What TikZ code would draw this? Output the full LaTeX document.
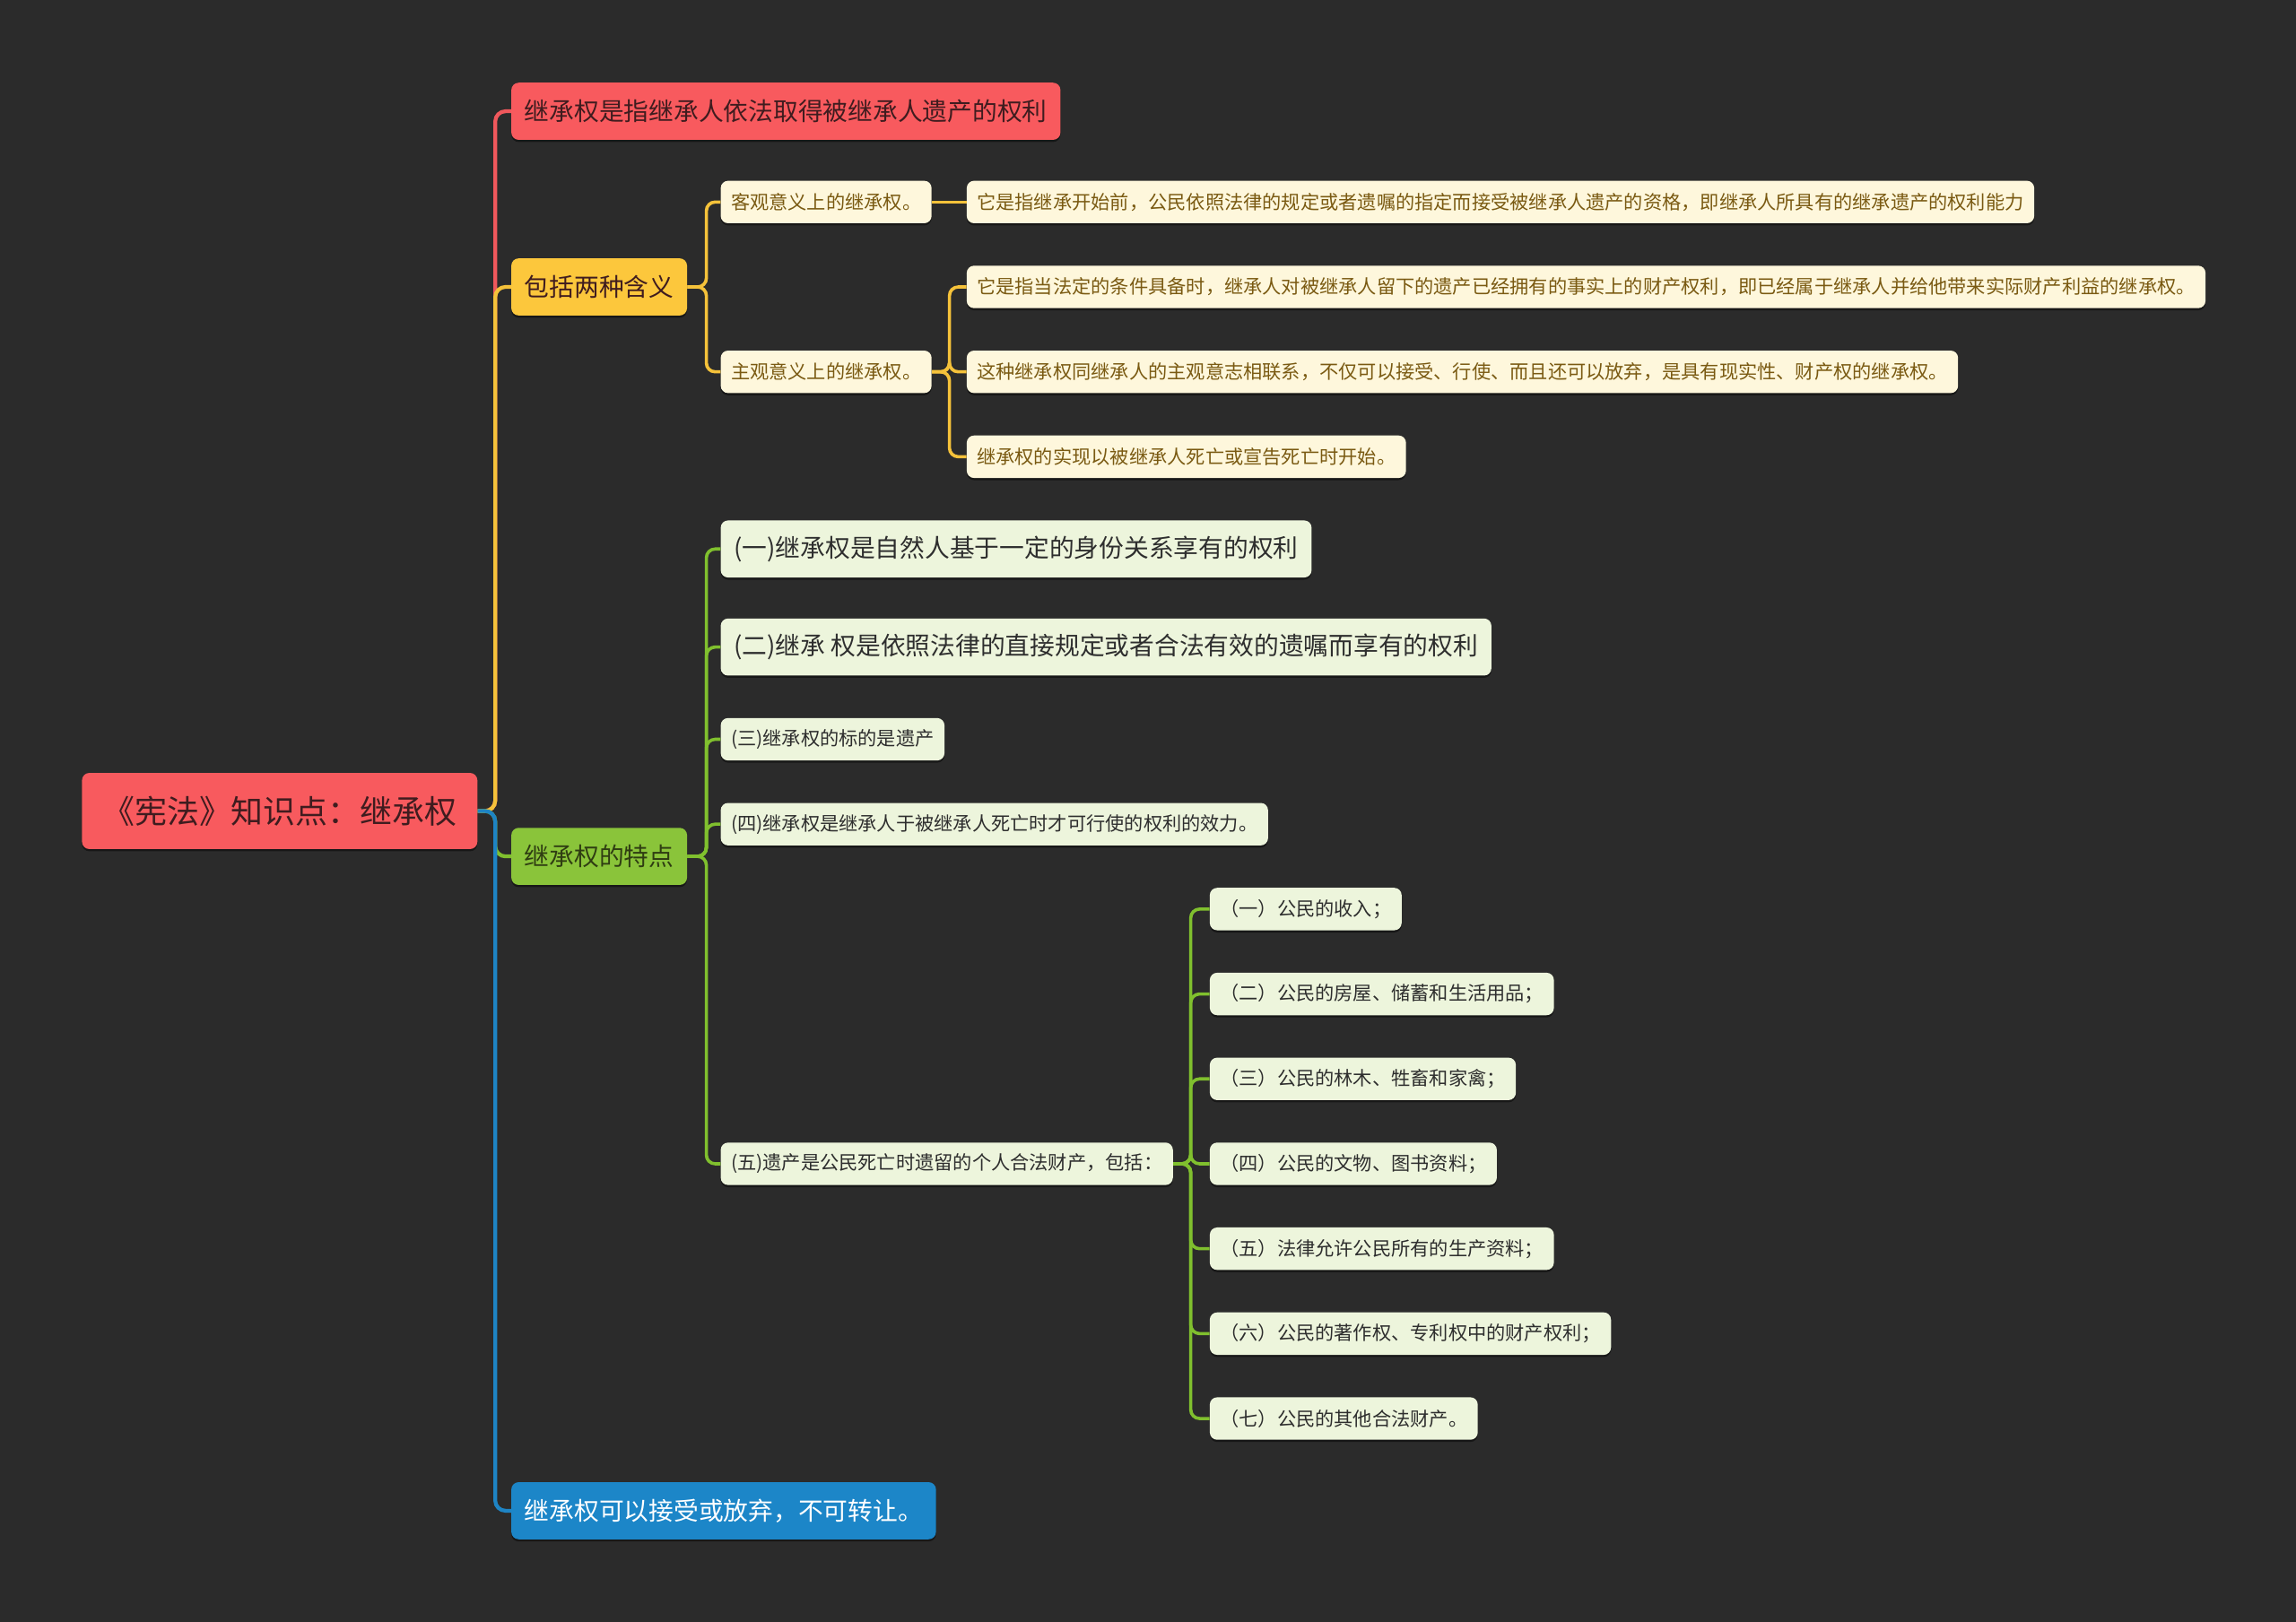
\documentclass[tikz,border=0pt]{standalone}
\usepackage{fontspec}
\setmainfont{Noto Sans CJK SC}
\usetikzlibrary{shadows}
\definecolor{bgGray}{HTML}{2B2B2B}
\definecolor{rootRed}{HTML}{F85A5E}
\definecolor{lineRed}{HTML}{F0585C}
\definecolor{topYellow}{HTML}{FCC73C}
\definecolor{lineYellow}{HTML}{F5C23A}
\definecolor{topGreen}{HTML}{8AC43A}
\definecolor{lineGreen}{HTML}{80C02E}
\definecolor{topBlue}{HTML}{1C86C8}
\definecolor{lineBlue}{HTML}{1E84C4}
\definecolor{creamFill}{HTML}{FEF7DC}
\definecolor{creamText}{HTML}{7A5A12}
\definecolor{paleGreen}{HTML}{EDF5DC}
\definecolor{darkText}{HTML}{2E2E2E}
\definecolor{redText}{HTML}{3F1C1F}
\definecolor{greenText}{HTML}{2F3D12}

\begin{document}
\begin{tikzpicture}[x=1pt,y=-1pt,
	MyBox/.style={rounded corners=5pt, anchor=west, inner xsep=8pt, inner ysep=0pt,
		drop shadow={shadow xshift=0pt, shadow yshift=-1.5pt, opacity=0.45, fill=black}},
	RootBox/.style={MyBox, anchor=center, fill=rootRed, text=redText, minimum width=270pt,
		minimum height=52pt, font=\fontsize{22}{26}\selectfont},
	TopBox/.style={MyBox, minimum height=39pt, inner xsep=9pt, font=\fontsize{17}{20}\selectfont},
	CreamBox/.style={MyBox, fill=creamFill, text=creamText, minimum height=29pt, inner xsep=7pt,
		font=\fontsize{13}{15}\selectfont},
	LeafBox/.style={MyBox, fill=paleGreen, text=darkText, minimum height=29pt, inner xsep=7pt,
		font=\fontsize{13}{15}\selectfont},
	BigLeaf/.style={LeafBox, minimum height=39pt, inner xsep=9pt, font=\fontsize{17}{20}\selectfont},
	Branch/.style={line width=2.6pt, rounded corners=7pt},
	Twig/.style={line width=2.2pt, rounded corners=6pt}]
	\fill[bgGray] (0,0) rectangle (1568,1108);
	\useasboundingbox (0,0) rectangle (1568,1108);

	% root and first level
	\node[RootBox] (root) at (191,554) {《宪法》知识点：继承权};
	\node[TopBox, fill=rootRed, text=redText] (def) at (349,76) {继承权是指继承人依法取得被继承人遗产的权利};
	\node[TopBox, fill=topYellow, text=redText] (two) at (349,196) {包括两种含义};
	\node[TopBox, fill=topGreen, text=greenText] (feat) at (349,585) {继承权的特点};
	\node[TopBox, fill=topBlue, text=white] (give) at (349,1032) {继承权可以接受或放弃，不可转让。};

	% two meanings
	\node[CreamBox] (obj) at (492,138) {客观意义上的继承权。};
	\node[CreamBox] (subj) at (492,254) {主观意义上的继承权。};
	\node[CreamBox] (objA) at (660,138) {它是指继承开始前，公民依照法律的规定或者遗嘱的指定而接受被继承人遗产的资格，即继承人所具有的继承遗产的权利能力};
	\node[CreamBox] (subjA) at (660,196) {它是指当法定的条件具备时，继承人对被继承人留下的遗产已经拥有的事实上的财产权利，即已经属于继承人并给他带来实际财产利益的继承权。};
	\node[CreamBox] (subjB) at (660,254) {这种继承权同继承人的主观意志相联系，不仅可以接受、行使、而且还可以放弃，是具有现实性、财产权的继承权。};
	\node[CreamBox] (subjC) at (660,312) {继承权的实现以被继承人死亡或宣告死亡时开始。};

	% features
	\node[BigLeaf] (f1) at (492,375) {(一)继承权是自然人基于一定的身份关系享有的权利};
	\node[BigLeaf] (f2) at (492,442) {(二)继承 权是依照法律的直接规定或者合法有效的遗嘱而享有的权利};
	\node[LeafBox] (f3) at (492,505) {(三)继承权的标的是遗产};
	\node[LeafBox] (f4) at (492,563) {(四)继承权是继承人于被继承人死亡时才可行使的权利的效力。};
	\node[LeafBox] (f5) at (492,795) {(五)遗产是公民死亡时遗留的个人合法财产，包括：};

	% estate items
	\foreach \txt [count=\i] in {（一）公民的收入；, （二）公民的房屋、储蓄和生活用品；, （三）公民的林木、牲畜和家禽；,
		（四）公民的文物、图书资料；, （五）法律允许公民所有的生产资料；, （六）公民的著作权、专利权中的财产权利；,
		（七）公民的其他合法财产。}
		\node[LeafBox] (e\i) at (826,563+58*\i) {\txt};

	% connectors
	\draw[Branch, lineRed] (root.east) -- ++(12,0) |- (def.west);
	\draw[Branch, lineYellow] (root.east) -- ++(12,0) |- (two.west);
	\draw[Branch, lineGreen] (root.east) -- ++(12,0) |- (feat.west);
	\draw[Branch, lineBlue] (root.east) -- ++(12,0) |- (give.west);
	\foreach \c in {obj,subj}
		\draw[Twig, lineYellow] (two.east) -- ++(13,0) |- (\c.west);
	\draw[Twig, lineYellow] (obj.east) -- (objA.west);
	\foreach \c in {subjA,subjB,subjC}
		\draw[Twig, lineYellow] (subj.east) -- ++(12,0) |- (\c.west);
	\foreach \c in {f1,f2,f3,f4,f5}
		\draw[Twig, lineGreen] (feat.east) -- ++(13,0) |- (\c.west);
	\foreach \i in {1,...,7}
		\draw[Twig, lineGreen] (f5.east) -- ++(12,0) |- (e\i.west);
\end{tikzpicture}
\end{document}
